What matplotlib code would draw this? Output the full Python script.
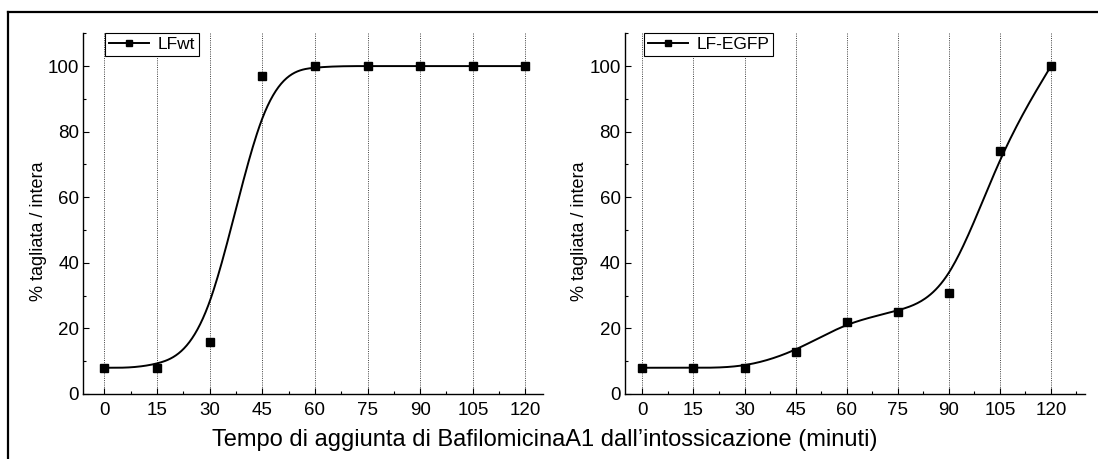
import numpy as np
import matplotlib.pyplot as plt
from matplotlib.lines import Line2D
from matplotlib.ticker import MultipleLocator

plt.rcParams['font.family'] = ['Liberation Sans', 'DejaVu Sans']

# Data
times = [0, 15, 30, 45, 60, 75, 90, 105, 120]
lfwt = [8, 8, 16, 97, 100, 100, 100, 100, 100]
lf_egfp = [8, 8, 8, 12.9, 22, 25.1, 30.7, 74, 100]


# uniform cubic B-spline, data points as control points, end points tripled
def bspline(xs, ys, steps=40):
    pts = np.column_stack([xs, ys]).astype(float)
    q = np.vstack([pts[:1], pts[:1], pts, pts[-1:], pts[-1:]])
    t = np.linspace(0, 1, steps)[:, None]
    b0 = (1 - t) ** 3 / 6
    b1 = (3 * t ** 3 - 6 * t ** 2 + 4) / 6
    b2 = (-3 * t ** 3 + 3 * t ** 2 + 3 * t + 1) / 6
    b3 = t ** 3 / 6
    segs = [b0 * q[i] + b1 * q[i + 1] + b2 * q[i + 2] + b3 * q[i + 3] for i in range(len(q) - 3)]
    curve = np.vstack(segs)
    return curve[:, 0], curve[:, 1]


fig = plt.figure(figsize=(10.98, 4.59), dpi=100)

# outer frame (top and left only, the rest is cropped)
fig.add_artist(Line2D([8 / 1098, 1.0], [1 - 12 / 459, 1 - 12 / 459], color='black', lw=1.6))
fig.add_artist(Line2D([8 / 1098, 8 / 1098], [0, 1 - 12 / 459], color='black', lw=1.6))

ax1 = fig.add_axes([83.3 / 1098, 1 - 394 / 459, 459.7 / 1098, 360.7 / 459])
ax2 = fig.add_axes([624.7 / 1098, 1 - 394 / 459, 460.3 / 1098, 360.7 / 459])

panels = [(ax1, lfwt, 'LFwt', (-6, 125), 0.047),
          (ax2, lf_egfp, 'LF-EGFP', (-5.2, 130), 0.042)]

for ax, vals, name, xl, lx in panels:
    for t in times:
        ax.axvline(t, color='0.25', lw=0.7, ls=(0, (1, 1.3)), zorder=1)
    cx, cy = bspline(times, vals)
    ax.plot(cx, cy, color='black', lw=1.4, zorder=3)
    ax.plot(times, vals, ls='none', marker='s', ms=6, color='black', zorder=4)
    handle = Line2D([], [], color='black', lw=1.4, marker='s', ms=5)
    leg = ax.legend([handle], [name], loc='upper left', bbox_to_anchor=(lx, 1.0),
                    fontsize=12.5, frameon=True, fancybox=False, edgecolor='black',
                    framealpha=1, borderpad=0.22, handlelength=2.3, handletextpad=0.5,
                    borderaxespad=0)
    leg.get_frame().set_linewidth(0.8)
    ax.set_xlim(*xl)
    ax.set_ylim(0, 110)
    ax.set_xticks(times)
    ax.set_yticks([0, 20, 40, 60, 80, 100])
    ax.xaxis.set_minor_locator(MultipleLocator(7.5))
    ax.yaxis.set_minor_locator(MultipleLocator(10))
    ax.tick_params(which='both', direction='in', labelsize=13.5, width=0.8)
    ax.tick_params(which='major', length=4)
    ax.tick_params(which='minor', length=2.5)
    ax.tick_params(axis='x', pad=6)
    ax.tick_params(axis='y', pad=3)
    ax.spines['top'].set_visible(False)
    ax.spines['right'].set_visible(False)
    ax.spines['left'].set_linewidth(1.0)
    ax.spines['bottom'].set_linewidth(1.0)
    ax.set_ylabel('% tagliata / intera', fontsize=13)
    ax.yaxis.set_label_coords(-0.08, 0.452)

fig.text(0.496, 0.041, 'Tempo di aggiunta di BafilomicinaA1 dall\u2019intossicazione (minuti)',
         ha='center', va='center', fontsize=17)

fig.savefig('out.png', dpi=100)
